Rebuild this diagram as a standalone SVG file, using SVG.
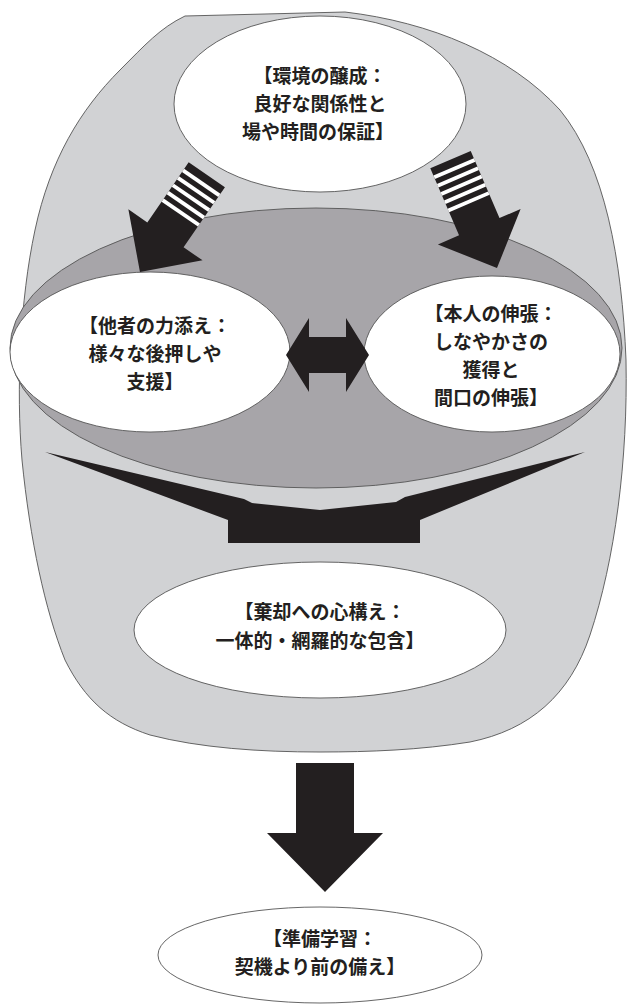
<svg xmlns="http://www.w3.org/2000/svg" width="630" height="1005" viewBox="0 0 630 1005">
<style>
.lbl{font-family:"Noto Sans CJK JP","Noto Sans CJK SC",sans-serif;font-weight:700;font-size:19px;fill:#231f20;text-anchor:middle}
.wh{fill:#ffffff;stroke:#555;stroke-width:0.9}
.blk{fill:#231f20}
</style>
<defs>
<g id="stripeArrow">
<polygon class="blk" points="0,-22 73,-22 73,-45 118,0 73,45 73,22 0,22"/>
<rect x="8" y="-22" width="3.8" height="44" fill="#fff"/>
<rect x="17" y="-22" width="3.8" height="44" fill="#fff"/>
<rect x="26" y="-22" width="3.8" height="44" fill="#fff"/>
<rect x="35" y="-22" width="3.8" height="44" fill="#fff"/>
<rect x="44" y="-22" width="3.8" height="44" fill="#fff"/>
</g>
</defs>
<rect width="630" height="1005" fill="#ffffff"/>
<g id="outer">
<path d="M185,16 L345,12 C430,22 510,55 560,110 C605,165 622,260 626,360 C628,460 615,560 590,635 C570,695 530,730 470,742 C420,750 370,752 320,752 C260,752 200,748 150,735 C110,722 85,700 65,660 C45,610 30,540 22,460 C16,390 20,300 35,230 C50,160 80,110 120,70 C145,45 160,28 185,16 Z" fill="#d1d2d4" stroke="#555" stroke-width="0.9"/>
</g>
<g id="n-core">
<ellipse cx="316" cy="348" rx="306" ry="140" fill="#a7a5a9" stroke="#555" stroke-width="0.9"/>
</g>
<g id="n-other">
<ellipse class="wh" cx="150" cy="352" rx="140" ry="80"/>
<text class="lbl" x="155" y="333">【他者の力添え：</text>
<text class="lbl" x="155" y="361">様々な後押しや</text>
<text class="lbl" x="155" y="389">支援】</text>
</g>
<g id="n-self">
<ellipse class="wh" cx="492" cy="354" rx="128" ry="78"/>
<text class="lbl" x="491" y="321">【本人の伸張：</text>
<text class="lbl" x="491" y="349">しなやかさの</text>
<text class="lbl" x="491" y="377">獲得と</text>
<text class="lbl" x="491" y="405">間口の伸張】</text>
</g>
<g id="connectors">
<use href="#stripeArrow" transform="translate(206.8,174.7) rotate(124.5)"/>
<use href="#stripeArrow" transform="translate(450.5,159.6) rotate(66.8)"/>
<polygon class="blk" points="286,355 309,318 309,337 346,337 346,318 369,355 346,392 346,373 309,373 309,392"/>
<polygon class="blk" points="45,452 244,499 252,503 320,510 396,502 405,497 585,452 420,520 420,543 228,543 228,520"/>
<polygon class="blk" points="296,763 354,763 354,833 383,833 325,892 267,833 296,833"/>
</g>
<g id="n-env">
<ellipse class="wh" cx="320" cy="104" rx="146" ry="88"/>
<text class="lbl" x="320" y="83">【環境の醸成：</text>
<text class="lbl" x="320" y="111">良好な関係性と</text>
<text class="lbl" x="318" y="139">場や時間の保証】</text>
</g>
<g id="n-discard">
<ellipse class="wh" cx="320" cy="630" rx="186" ry="68"/>
<text class="lbl" x="320" y="619">【棄却への心構え：</text>
<text class="lbl" x="320" y="648">一体的・網羅的な包含】</text>
</g>
<g id="n-prep">
<ellipse class="wh" cx="320" cy="955" rx="162" ry="48"/>
<text class="lbl" x="320" y="946">【準備学習：</text>
<text class="lbl" x="320" y="974">契機より前の備え】</text>
</g>
</svg>
